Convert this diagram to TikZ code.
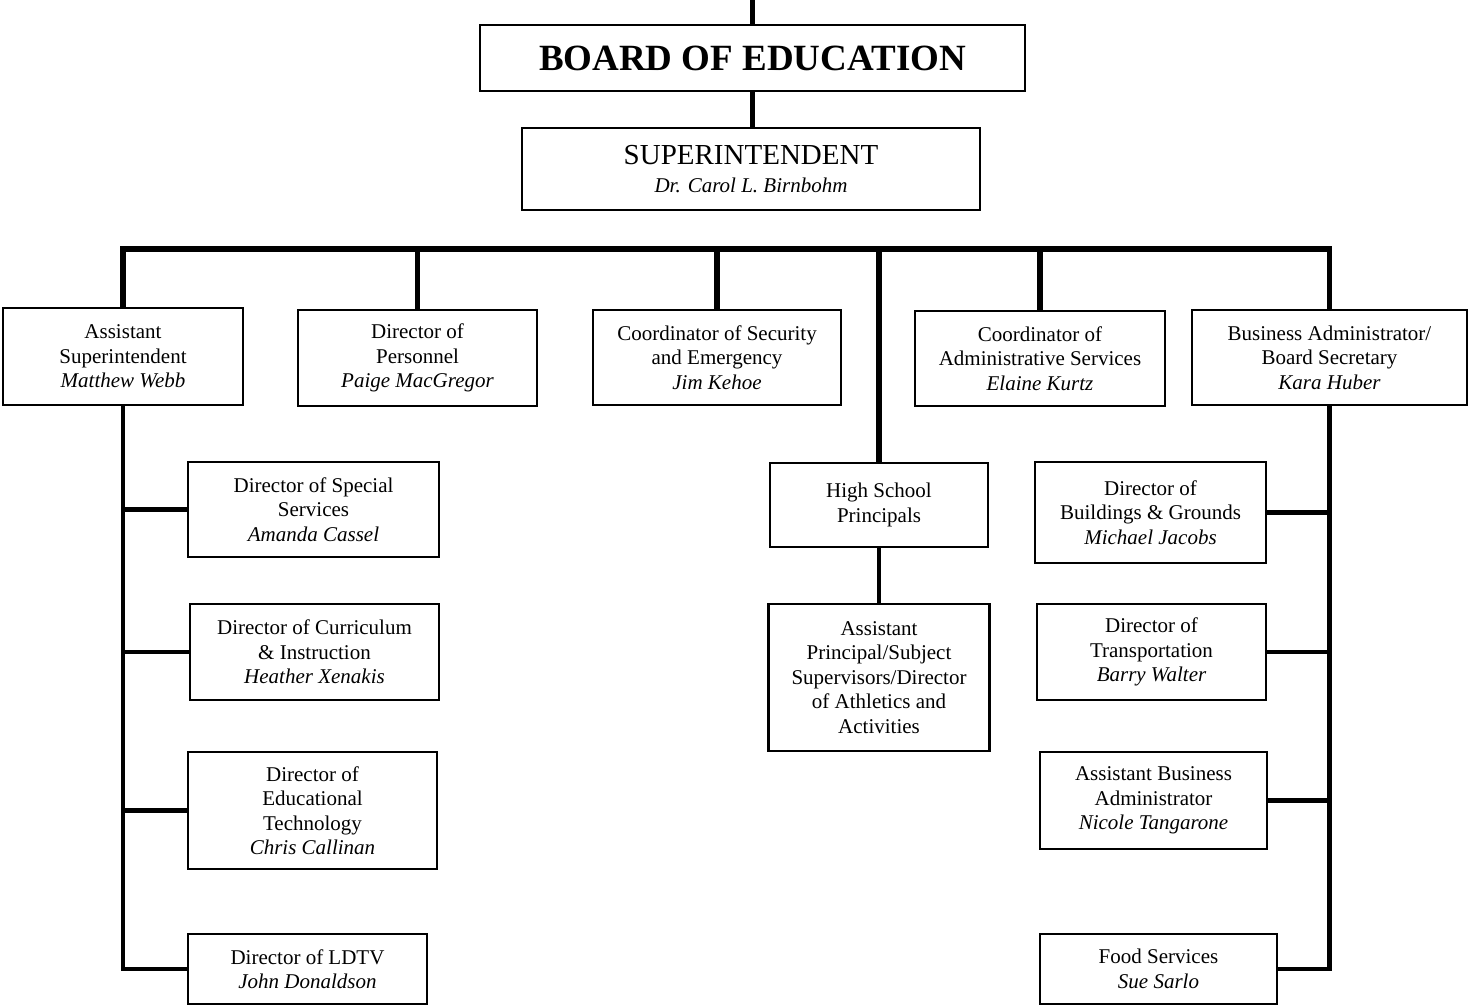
\documentclass[tikz,border=0pt]{standalone}
\usepackage{fontspec}
\setmainfont{Liberation Serif}
\usetikzlibrary{calc}

\begin{document}
\begin{tikzpicture}[x=0.5pt,y=-0.5pt,
    box/.style={draw,line width=1.2pt,align=center,inner sep=1pt,
      font=\fontsize{10.5}{12.25}\selectfont},
    link/.style={line width=2.4pt},
    bus/.style={line width=2.6pt}]

 % ================================================================
 % frame
 % ================================================================
	\useasboundingbox (0,0) rectangle (1470,1006);
	\coordinate (top) at (752.5,-4);
	\coordinate (bus) at (0,249);

        % board and superintendent
        \node[box,minimum width=272.5pt,minimum height=33pt,
          font=\fontsize{18.5}{22}\selectfont\bfseries] (board) at (752.5,58) {BOARD OF EDUCATION};
        \node[box,minimum width=229pt,minimum height=41pt] (supt) at (751,169)
          {{\fontsize{14.5}{16}\selectfont SUPERINTENDENT}\\[2pt]\textit{Dr. Carol L. Birnbohm}};
        \draw[link] (top) -- (board.north);
        \draw[link] (board.south) -- (board.south |- supt.north);

        % first row
        \node[box,minimum width=120pt,minimum height=48.5pt] (asup) at (123,356.5)
          {Assistant\\Superintendent\\\textit{Matthew Webb}};
        \node[box,minimum width=119.5pt,minimum height=48pt] (pers) at (417.5,358)
          {Director of\\Personnel\\\textit{Paige MacGregor}};
        \node[box,minimum width=124pt,minimum height=47.5pt] (secu) at (717,357.5)
          {Coordinator of Security\\and Emergency\\\textit{Jim Kehoe}};
        \node[box,minimum width=125pt,minimum height=47.5pt] (adms) at (1040,358.5)
          {Coordinator of\\Administrative Services\\\textit{Elaine Kurtz}};
        \node[box,minimum width=137.5pt,minimum height=47.5pt] (busi) at (1329.5,357.5)
          {Business Administrator/\\Board Secretary\\\textit{Kara Huber}};

        % horizontal bus
        \draw[bus] (asup.north) |- (bus -| busi.north) -- (busi.north);
        \foreach \n in {pers,secu,adms}
          \draw[bus] (\n.north) -- (bus -| \n.north);

        % left column
        \node[box,minimum width=125.5pt,minimum height=47.5pt] (spec) at (313.5,509.5)
          {Director of Special\\Services\\\textit{Amanda Cassel}};
        \node[box,minimum width=124.5pt,minimum height=48pt] (curr) at (314.5,652)
          {Director of Curriculum\\\& Instruction\\\textit{Heather Xenakis}};
        \node[box,minimum width=124.5pt,minimum height=58.5pt] (tech) at (312.5,810.5)
          {Director of\\Educational\\Technology\\\textit{Chris Callinan}};
        \node[box,minimum width=119.5pt,minimum height=35pt] (ldtv) at (307.5,969)
          {Director of LDTV\\\textit{John Donaldson}};
        %vertical links
        \draw[link] (asup.south) |- (ldtv.west);
        \foreach \n in {spec,curr,tech}
          \draw[link] (\n.west) -- (\n.west -| asup.south);

        % middle column
        \node[box,minimum width=109pt,minimum height=42pt] (hsp) at (879,505)
          {High School\\Principals};
        \node[box,minimum width=110.5pt,minimum height=73.5pt] (apr) at (879,677.5)
          {Assistant\\Principal/Subject\\Supervisors/Director\\of Athletics and\\Activities};
        \draw[bus] (hsp.north) -- (bus -| hsp.north);
        \draw[link] (hsp.south) -- (apr.north);

        % right column
        \node[box,minimum width=115.5pt,minimum height=50.5pt] (bldg) at (1150.5,512.5)
          {Director of\\Buildings \& Grounds\\\textit{Michael Jacobs}};
        \node[box,minimum width=114.5pt,minimum height=48pt] (trns) at (1151.5,652)
          {Director of\\Transportation\\\textit{Barry Walter}};
        \node[box,minimum width=113.5pt,minimum height=48.5pt] (abus) at (1153.5,800.5)
          {Assistant Business\\Administrator\\\textit{Nicole Tangarone}};
        \node[box,minimum width=118.5pt,minimum height=35pt] (food) at (1158.5,969)
          {Food Services\\\textit{Sue Sarlo}};
        %vertical links
        \draw[link] (busi.south) |- (food.east);
        \foreach \n in {bldg,trns,abus}
          \draw[link] (\n.east) -- (\n.east -| busi.south);

\end{tikzpicture}
\end{document}
